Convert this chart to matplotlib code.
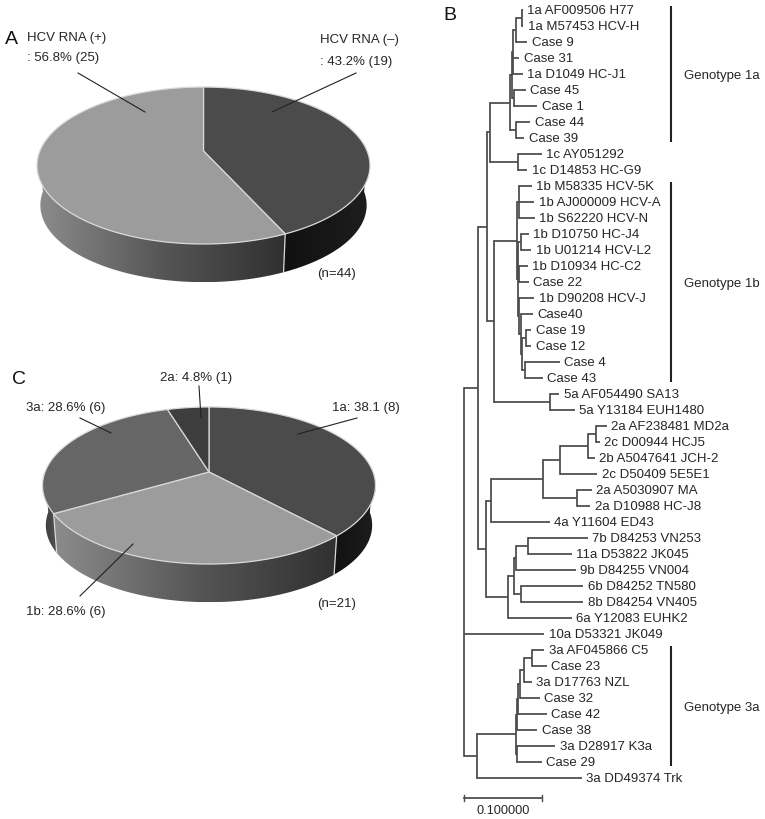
"""
Figure with three panels: two 3D pies of HCV results and a genotype tree.
"""
import numpy as np
import matplotlib
matplotlib.use('Agg')
import matplotlib.pyplot as plt
from matplotlib.colors import LinearSegmentedColormap
from matplotlib.patches import Polygon

plt.rcParams['font.family'] = ['Liberation Sans', 'DejaVu Sans']

# ------------------------------------------------------------------------------
# DATA
# ------------------------------------------------------------------------------
# clockwise from 12 o'clock
rna_values = [19, 25]
genotype_values = [8, 6, 6, 1]

tip_labels = ['1a AF009506 H77', '1a M57453 HCV-H', 'Case 9', 'Case 31', '1a D1049 HC-J1',
              'Case 45', 'Case 1', 'Case 44', 'Case 39', '1c AY051292', '1c D14853 HC-G9',
              '1b M58335 HCV-5K', '1b AJ000009 HCV-A', '1b S62220 HCV-N', '1b D10750 HC-J4',
              '1b U01214 HCV-L2', '1b D10934 HC-C2', 'Case 22', '1b D90208 HCV-J', 'Case40',
              'Case 19', 'Case 12', 'Case 4', 'Case 43', '5a AF054490 SA13', '5a Y13184 EUH1480',
              '2a AF238481 MD2a', '2c D00944 HCJ5', '2b A5047641 JCH-2', '2c D50409 5E5E1',
              '2a A5030907 MA', '2a D10988 HC-J8', '4a Y11604 ED43', '7b D84253 VN253',
              '11a D53822 JK045', '9b D84255 VN004', '6b D84252 TN580', '8b D84254 VN405',
              '6a Y12083 EUHK2', '10a D53321 JK049', '3a AF045866 C5', 'Case 23',
              '3a D17763 NZL', 'Case 32', 'Case 42', 'Case 38', '3a D28917 K3a', 'Case 29',
              '3a DD49374 Trk']
tip_parents = ['W', 'W', 'V', 'U', 'U', 'T', 'T', 'R', 'R', 'c1', 'c1',
               'Y', 'Y', 'Y', 'AA', 'AA', 'AE', 'AE', 'AF', 'AG',
               'AC', 'AC', 'AD', 'AD', 'five', 'five',
               'J', 'J', 'I', 'G', 'H', 'H', 'E', 'O',
               'O', 'M', 'N', 'N', 'K', 'root', 'BH', 'BH',
               'BG', 'BF', 'BE', 'BC', 'BD', 'BD', 'BA']
tip_dist = [.075, .076, .081, .071, .075, .079, .094, .085, .077, .100, .081,
            .087, .090, .091, .083, .086, .082, .083, .090, .088,
            .086, .086, .123, .101, .122, .142,
            .183, .174, .168, .171, .164, .162, .110, .159,
            .138, .143, .153, .153, .138, .103, .103, .106,
            .087, .097, .106, .094, .117, .100, .151]

inner_names = ['root', 'A', 'B', 'C', 'P', 'Q', 'U', 'V', 'W', 'T', 'R', 'c1',
               'X2', 'X', 'Y', 'Z', 'AA', 'AE', 'AF', 'AG', 'AH', 'AC', 'AD', 'five',
               'D', 'E', 'F', 'G', 'I', 'J', 'H', 'K', 'L', 'M', 'O', 'N',
               'BA', 'BB', 'BC', 'BE', 'BF', 'BG', 'BH', 'BD']
inner_parents = [None, 'root', 'A', 'B', 'C', 'P', 'Q', 'U', 'V', 'Q', 'P', 'C',
                 'B', 'X2', 'X', 'X', 'Z', 'Z', 'Z', 'AF', 'AG', 'AH', 'AH', 'X2',
                 'A', 'D', 'E', 'F', 'G', 'I', 'F', 'D', 'K', 'L', 'M', 'L',
                 'root', 'BA', 'BB', 'BC', 'BE', 'BF', 'BG', 'BB']
inner_dist = [0, .018, .029, .033, .059, .062, .063, .067, .074, .064, .067, .069,
              .038, .068, .071, .069, .073, .070, .071, .073, .074, .079, .078, .110,
              .028, .035, .101, .123, .159, .169, .145, .056, .064, .067, .082, .073,
              .017, .067, .068, .069, .072, .077, .087, .068]

genotype_names = ['Genotype 1a', 'Genotype 1b', 'Genotype 3a']
genotype_first = ['1a AF009506 H77', '1b M58335 HCV-5K', '3a AF045866 C5']
genotype_last = ['Case 39', 'Case 43', 'Case 29']

scale_length = 0.1
scale_label = '0.100000'

# ------------------------------------------------------------------------------
# STYLE
# ------------------------------------------------------------------------------
TXT = '#262626'
LINE = '#4a4a4a'
EDGE = '#d8d8d8'
FS = 9.5

DARK_TOP, LIGHT_TOP, MID_TOP, DEEP_TOP = '#4b4b4b', '#9c9c9c', '#666666', '#3e3e3e'
black_side = LinearSegmentedColormap.from_list('black_side', ['#111111', '#1e1e1e'])
light_side = LinearSegmentedColormap.from_list('light_side', ['#8c8c8c', '#565656', '#303030'])
mid_side = LinearSegmentedColormap.from_list('mid_side', ['#3a3a3a', '#555555'])

fig = plt.figure(figsize=(7.65, 8.19), dpi=100)
ax = fig.add_axes([0, 0, 1, 1])
ax.set_xlim(0, 765)
ax.set_ylim(819, 0)
ax.axis('off')


# ------------------------------------------------------------------------------
# PIES
# ------------------------------------------------------------------------------
def project(t, cx, cy, m, k, p, drop=0.0, scale=1.0):
    """Perspective view of the unit circle, t in radians clockwise from the top."""
    u, v = np.sin(t), -np.cos(t)
    w = 1 - p * v
    return cx + scale * m * u / w, cy + drop + scale * k * v / w


def pie_3d(values, tops, sides, cx, cy, m, k, p, drop=40.0):
    edges = np.cumsum([0] + list(values)) / sum(values) * 2 * np.pi
    for i in range(len(values)):
        t = np.linspace(edges[i], edges[i + 1], 200)
        # wall of the slice, front half only
        t_front = t[(t > np.pi / 2) & (t < 3 * np.pi / 2)]
        if len(t_front) > 1:
            xt, yt = project(t_front, cx, cy, m, k, p)
            xb, yb = project(t_front, cx, cy, m, k, p, drop, 0.98)
            xy = np.r_[np.c_[xt, yt], np.c_[xb, yb][::-1]]
            wall = Polygon(xy, closed=True, fc='none', ec='none', zorder=1)
            ax.add_patch(wall)
            im = ax.imshow(np.linspace(0, 1, 256)[None, :], cmap=sides[i], aspect='auto',
                           extent=[xy[:, 0].min(), xy[:, 0].max(), xy[:, 1].max(), xy[:, 1].min()],
                           zorder=1)
            im.set_clip_path(wall)
        xt, yt = project(t, cx, cy, m, k, p)
        top = np.r_[[[cx, cy]], np.c_[xt, yt]]
        ax.add_patch(Polygon(top, closed=True, fc=tops[i], ec=EDGE, lw=0.9, zorder=2))
        # seam on the wall where two slices meet
        xs, ys = project(np.array([edges[i], edges[i]]), cx, cy, m, k, p)
        xe, ye = project(np.array([edges[i]]), cx, cy, m, k, p, drop, 0.98)
        if np.pi / 2 < edges[i] < 3 * np.pi / 2:
            ax.plot([xs[0], xe[0]], [ys[0], ye[0]], color=EDGE, lw=0.9, zorder=2)
    ax.set_xlim(0, 765)
    ax.set_ylim(819, 0)


pie_3d(rna_values, [DARK_TOP, LIGHT_TOP], [black_side, light_side],
       203.5, 151, 163.6, 75.8, 0.185)
pie_3d(genotype_values, [DARK_TOP, LIGHT_TOP, MID_TOP, DEEP_TOP],
       [black_side, light_side, mid_side, mid_side],
       209, 472, 164, 76.2, 0.172)

# leader lines, panel A then panel C
leader_x = [(78, 145), (356, 272), (199, 201), (80, 111), (357, 298), (80, 133)]
leader_y = [(73, 112), (73, 112), (386, 418), (418, 433), (418, 434), (596, 544)]
for lx, ly in zip(leader_x, leader_y):
    ax.plot(lx, ly, color='#222222', lw=0.8, zorder=3)

pie_texts = [(27, 37, 'HCV RNA (+)'), (27, 56, ': 56.8% (25)'),
             (320, 38, 'HCV RNA (\u2013)'), (320, 60, ': 43.2% (19)'),
             (317, 272, '(n=44)'),
             (160, 376, '2a: 4.8% (1)'), (26, 407, '3a: 28.6% (6)'),
             (332, 407, '1a: 38.1 (8)'), (26, 611, '1b: 28.6% (6)'),
             (317, 603, '(n=21)')]
for tx, ty, s in pie_texts:
    ax.text(tx, ty, s, fontsize=FS, color=TXT, ha='left', va='center_baseline', zorder=4)

for tx, ty, s in [(5, 38, 'A'), (443, 14, 'B'), (12, 378, 'C')]:
    ax.text(tx, ty, s, fontsize=14, color='#111111', ha='left', va='center_baseline', zorder=4)

# ------------------------------------------------------------------------------
# TREE
# ------------------------------------------------------------------------------
tree = fig.add_axes([0, 0, 1, 1], facecolor='none')
tree.set_xlim(-464 / 780, (765 - 464) / 780)
tree.set_ylim((819 - 10) / 16, -10 / 16)
tree.axis('off')

parent_of = dict(zip(inner_names, inner_parents))
parent_of.update(zip(tip_labels, tip_parents))
dist_of = dict(zip(inner_names, inner_dist))
dist_of.update(zip(tip_labels, tip_dist))
row_of = {name: float(i) for i, name in enumerate(tip_labels)}

children = {name: [] for name in inner_names}
for name, par in parent_of.items():
    if par is not None:
        children[par].append(name)


def node_row(name):
    if name in row_of:
        return row_of[name]
    rows = [node_row(c) for c in children[name]]
    row_of[name] = (min(rows) + max(rows)) / 2
    return row_of[name]


node_row('root')
for name in inner_names:
    rows = [row_of[c] for c in children[name]]
    tree.plot([dist_of[name]] * 2, [min(rows), max(rows)], color=LINE, lw=1.25,
              solid_capstyle='projecting')
for name, par in parent_of.items():
    if par is not None:
        tree.plot([dist_of[par], dist_of[name]], [row_of[name]] * 2, color=LINE, lw=1.25,
                  solid_capstyle='butt')

for name, d in zip(tip_labels, tip_dist):
    tree.annotate(name, (d, row_of[name]), xytext=(3.2, 0), textcoords='offset points',
                  fontsize=FS, color=TXT, ha='left', va='center_baseline')

# genotype brackets sit at a fixed spot right of the labels
bar_x = (671 - 464) / 780
for label, first, last in zip(genotype_names, genotype_first, genotype_last):
    y0, y1 = row_of[first] - 0.25, row_of[last] + 0.25
    tree.plot([bar_x, bar_x], [y0, y1], color='#222222', lw=1.5, solid_capstyle='butt')
    tree.annotate(label, (bar_x, (y0 + y1) / 2), xytext=(9.5, 0), textcoords='offset points',
                  fontsize=FS, color=TXT, ha='left', va='center_baseline')

# scale bar
scale_row = 49.25
tree.plot([0, scale_length], [scale_row, scale_row], color=LINE, lw=1.25)
for sx in (0, scale_length):
    tree.plot([sx, sx], [scale_row - 0.2, scale_row + 0.2], color=LINE, lw=1.0)
tree.annotate(scale_label, (scale_length / 2, scale_row), xytext=(0, -8), textcoords='offset points',
              fontsize=FS - 0.3, color=TXT, ha='center', va='center_baseline')

fig.savefig('out.png', dpi=100)
